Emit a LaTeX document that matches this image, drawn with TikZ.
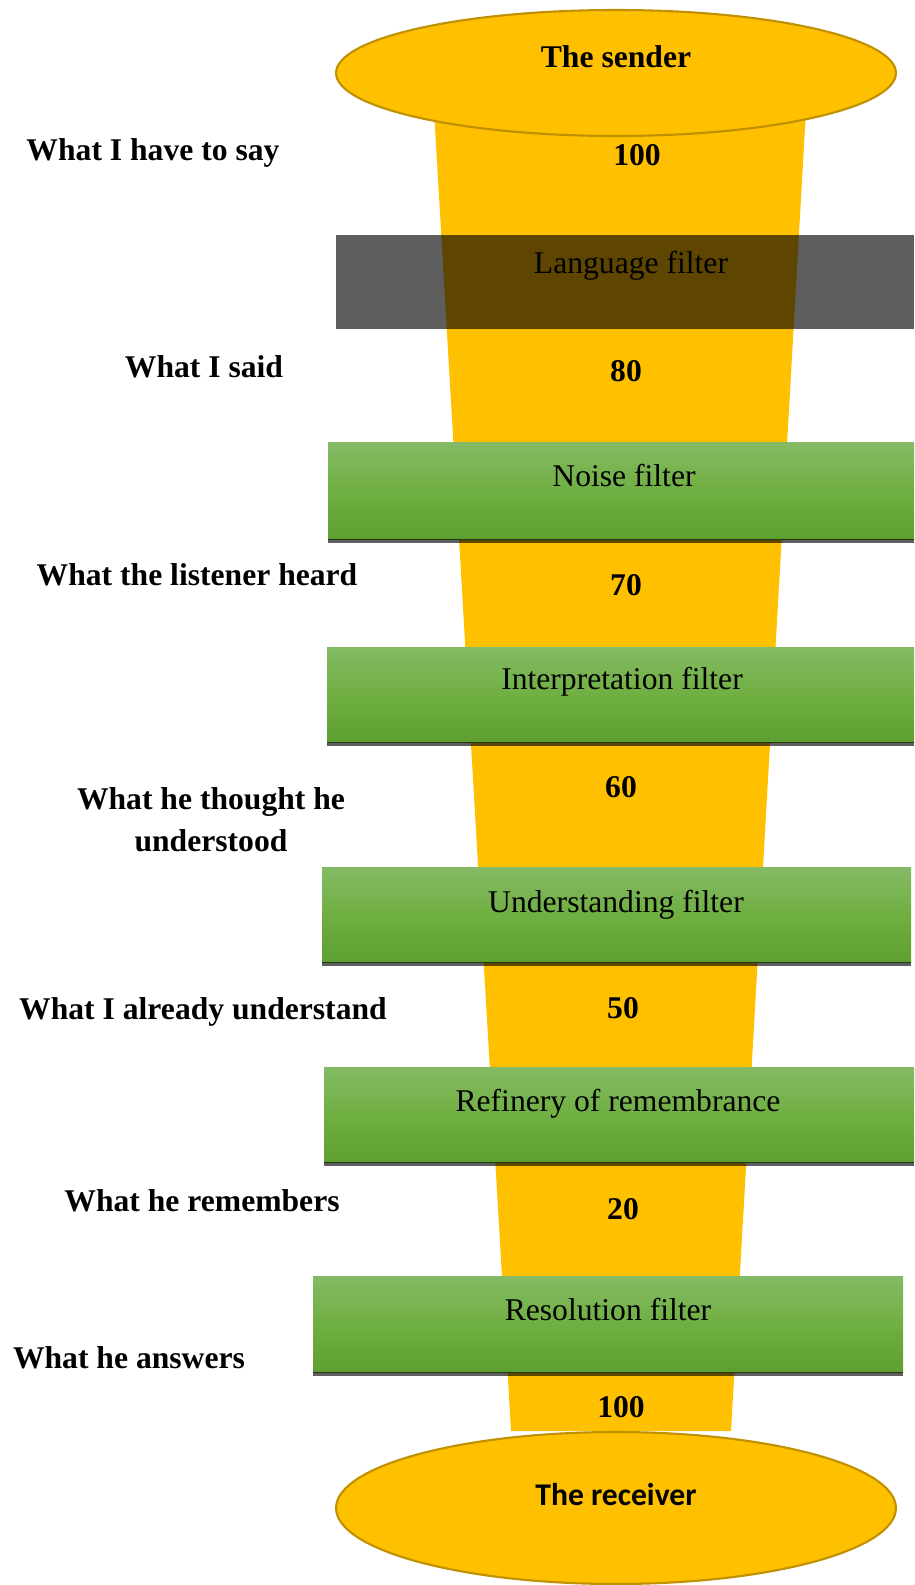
\documentclass[tikz,border=0pt]{standalone}
\usepackage{fontspec}
\setmainfont{Liberation Serif}
\newfontfamily\receiverfont{Carlito}
\usetikzlibrary{shapes.geometric}
\definecolor{funnel}{HTML}{FFC000}
\definecolor{rim}{HTML}{BF9000}
\definecolor{greentop}{HTML}{84BA65}
\definecolor{greenmid}{HTML}{70AF42}
\definecolor{greenbot}{HTML}{5E9F32}

\begin{document}
\begin{tikzpicture}[x=0.02cm,y=-0.02cm,
  lbl/.style={font=\fontsize{18}{23.6}\selectfont\bfseries,align=center,inner sep=0pt,anchor=base},
  num/.style={font=\fontsize{18}{21}\selectfont\bfseries,inner sep=0pt,anchor=base},
  ftext/.style={font=\fontsize{18}{21}\selectfont,inner sep=0pt,anchor=base},
  endcap/.style={ellipse,draw=rim,line width=1.2pt,fill=funnel,minimum width=11.2cm,inner sep=0pt},
  greenbar/.style={top color=greentop,bottom color=greenbot,middle color=greenmid},
  shadowline/.style={fill=black,opacity=0.63}]
\useasboundingbox (0,0) rectangle (914,1585);
% funnel
\fill[funnel] (434,110) -- (806,110) -- (731,1431) -- (511,1431) -- cycle;
% filters
\fill[black,opacity=0.63] (336,235) rectangle (914,329);
\shade[greenbar] (328,442) rectangle (914,539);
\fill[shadowline] (328,539) rectangle (914,543);
\shade[greenbar] (327,647) rectangle (914,742);
\fill[shadowline] (327,742) rectangle (914,746);
\shade[greenbar] (322,867) rectangle (911,962);
\fill[shadowline] (322,962) rectangle (911,966);
\shade[greenbar] (324,1067) rectangle (914,1162);
\fill[shadowline] (324,1162) rectangle (914,1166);
\shade[greenbar] (313,1276) rectangle (903,1372);
\fill[shadowline] (313,1372) rectangle (903,1376);
\node[ftext] (language) at (631,273) {Language filter};
\node[ftext] (noise) at (624,486) {Noise filter};
\node[ftext] (interpretation) at (622,689) {Interpretation filter};
\node[ftext] (understanding) at (616,912) {Understanding filter};
\node[ftext] (refinery) at (618,1111) {Refinery of remembrance};
\node[ftext] (resolution) at (608,1320) {Resolution filter};
% sender and receiver
\node[endcap,minimum height=2.52cm] (sender) at (616,73) {};
\node[num] (sendertext) at (616,68) {The sender};
\node[endcap,minimum height=3.04cm] (receiver) at (616,1508) {};
\node[num,font=\receiverfont\fontsize{18}{21}\selectfont\bfseries] (receivertext) at (616,1505) {The receiver};
% amounts
\node[num] (n100) at (637,165) {100};
\node[num] (n80) at (626,381) {80};
\node[num] (n70) at (626,595) {70};
\node[num] (n60) at (621,797) {60};
\node[num] (n50) at (623,1018) {50};
\node[num] (n20) at (623,1219) {20};
\node[num] (n100b) at (621,1417) {100};
% left side
\node[lbl] (say) at (153,160) {What I have to say};
\node[lbl] (said) at (204,377) {What I said};
\node[lbl] (heard) at (197,585) {What the listener heard};
\node[lbl] (thought) at (211,851) {What he thought he\\understood};
\node[lbl] (already) at (203,1019) {What I already understand};
\node[lbl] (remembers) at (202,1211) {What he remembers};
\node[lbl] (answers) at (129,1368) {What he answers};
\end{tikzpicture}
\end{document}
